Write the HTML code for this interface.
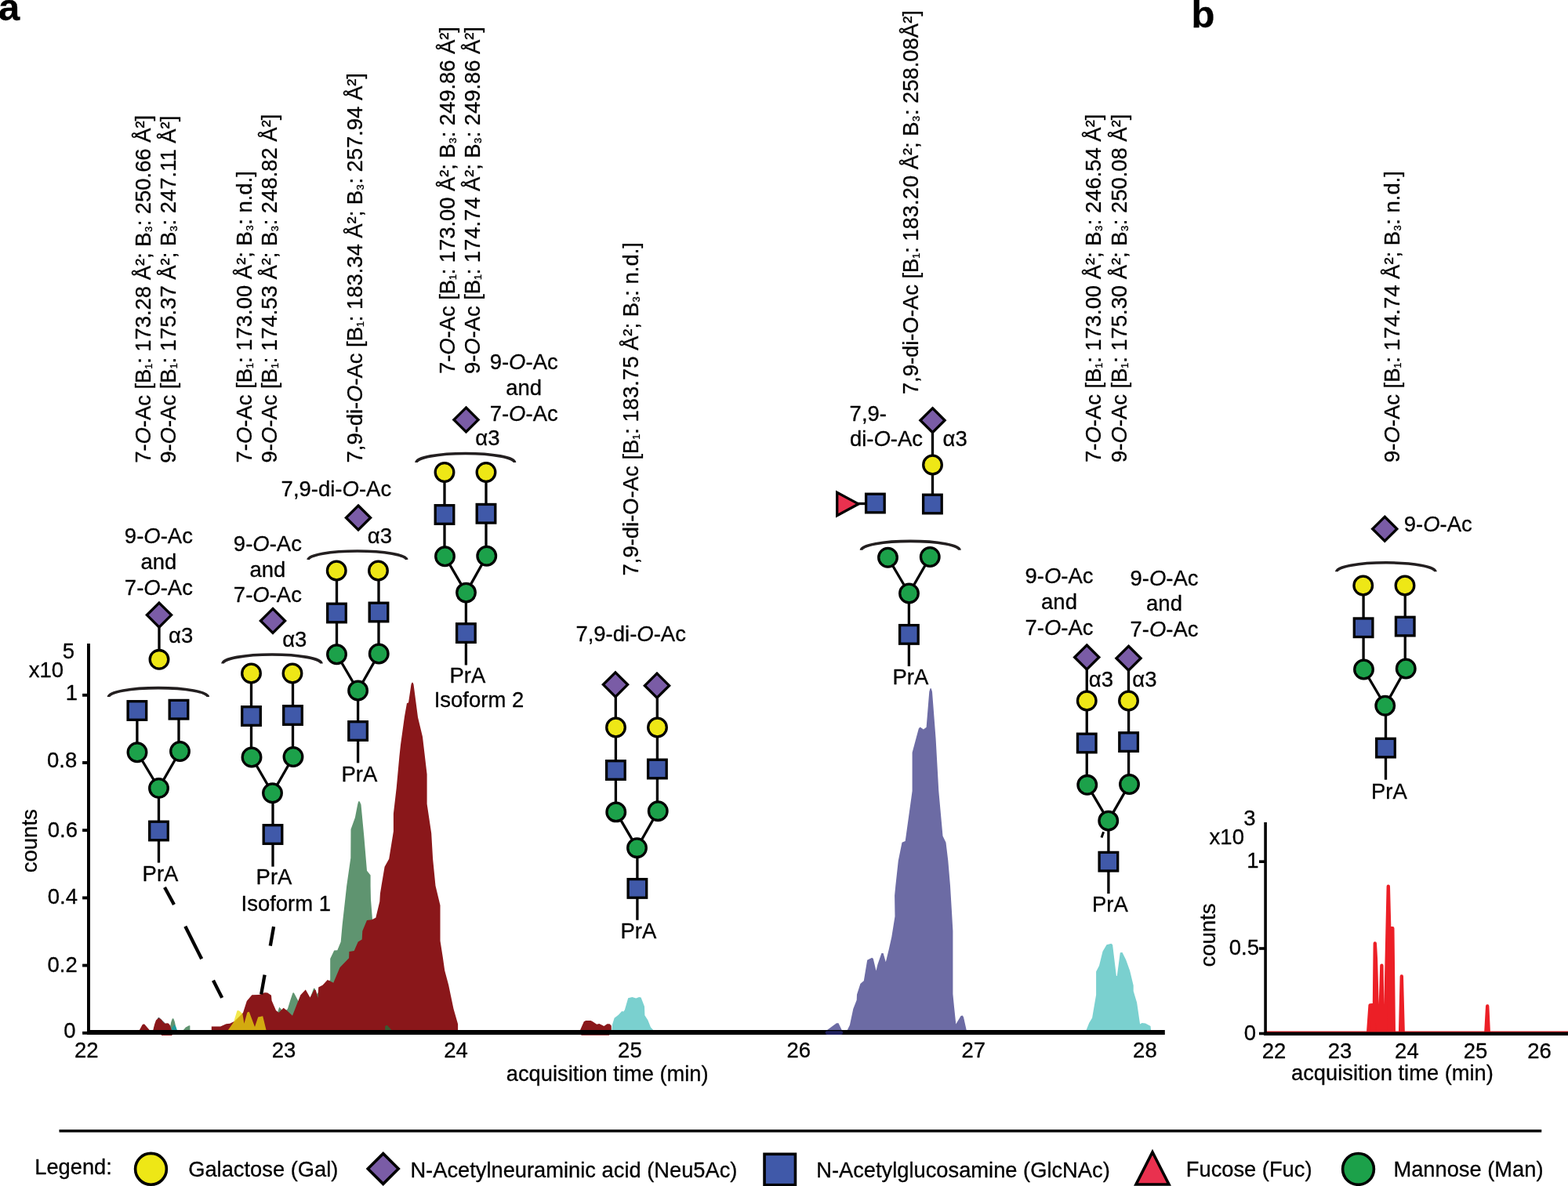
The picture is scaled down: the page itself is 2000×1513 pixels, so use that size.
<!DOCTYPE html>
<html lang="en"><head><meta charset="utf-8"><title>Figure</title>
<style>
html,body{margin:0;padding:0;background:#fff;}
body{width:2000px;height:1513px;overflow:hidden;}
svg{display:block;font-family:"Liberation Sans",Arial,Helvetica,sans-serif;font-size:27.5px;fill:#000;}
text{stroke:#000;stroke-width:0.3px;stroke-linejoin:round;}
</style></head><body>
<svg xmlns="http://www.w3.org/2000/svg" width="2000" height="1513" viewBox="0 0 2000 1513">
<rect width="2000" height="1513" fill="#fff"/>
<path d="M215.8,1316 L218.2,1304 L219.8,1299.6 L220.6,1299.2 L221.4,1299.6 L223,1304 L225.4,1316Z" fill="#5F9470"/>
<path d="M218.6,1316 L219.4,1311.2 L222.4,1307 L224.2,1309.4 L226.6,1316Z" fill="#1F9C9A"/>
<path d="M232,1316 L237,1310.5 L241.2,1308.2 L242.4,1308.6 L242.4,1316Z" fill="#5F9470"/>
<path d="M352,1316 L354.4,1290.8 L356.2,1284.8 L358.6,1287.2 L362,1292 L366.9,1287 L370,1277 L373.4,1266.8 L374.2,1266.2 L375,1266.8 L380.8,1277.6 L385,1290 L395,1275 L399.8,1261.5 L400.8,1260.6 L401.8,1261.5 L404,1268 L410,1262 L421.2,1249.9 L421.2,1222.9 L426.2,1212.5 L430.3,1212.2 L434.7,1201.6 L436.6,1180.2 L440.4,1146.3 L442.2,1130 L447.3,1094.4 L447.5,1058 L452.9,1043 L456.1,1026.6 L457.1,1022.6 L457.9,1022.2 L458.8,1022.6 L460.5,1026.6 L464.2,1065.6 L468,1110.8 L472.6,1116.4 L472.6,1130 L473,1147.6 L474.9,1172.1 L480,1200 L480,1316Z" fill="#5F9470"/>
<path d="M196,1312 L201.5,1298.2 L203,1298 L210.5,1305.3 L212,1309 L200,1309Z" fill="#4D5456"/>
<path d="M176.8,1316 L181.6,1307.2 L182.8,1306.4 L184.2,1306.6 L192.4,1316Z" fill="#8A171A"/>
<path d="M194.8,1316 L197.2,1306.4 L199,1301.6 L201.4,1299.4 L203.2,1299.2 L205.6,1300.6 L208,1304 L209.8,1305.8 L211.6,1305.4 L213.4,1305.2 L215.2,1305.8 L217,1308.2 L218.8,1314 L219.6,1321 L206,1321 L205,1316Z" fill="#8A171A"/>
<path d="M269.8,1316 L269.8,1309.4 L281.2,1309.4 L288.4,1306.2 L293.2,1305.8 L299.2,1302.8 L305,1297 L310,1292 L314.8,1277 L321.4,1269.2 L330.4,1269 L337.6,1266.2 L341.2,1266.6 L346,1269.8 L346.6,1276.4 L352,1289 L355.6,1291.8 L361.6,1285.8 L366.4,1289.4 L373,1295.8 L383.2,1269.6 L389.8,1262.6 L395.5,1272.5 L400.8,1262.5 L402.7,1263.1 L405.5,1273.1 L406.2,1259.6 L411.5,1256.8 L417.8,1249.9 L425.3,1253.7 L433.5,1234.2 L445.1,1222.3 L445.4,1214.1 L451.7,1213.1 L456.7,1201.6 L461.7,1198.4 L462.3,1187.8 L468,1173.9 L474.3,1173.3 L479.3,1170.8 L484.3,1150.1 L484.9,1140 L486.5,1130 L490.6,1105.7 L496.2,1095.7 L501.9,1060.5 L501.9,1037.9 L505.7,1005.3 L509.4,965.1 L511,950 L516,914 L519,897 L521,896.5 L524.5,873 L525.4,870.9 L526,870.5 L526.6,870.9 L527.5,873 L533,915 L539,940 L544.6,987.7 L544.6,1025.4 L550.2,1063 L552.1,1095.7 L555.5,1130 L561.5,1155.1 L561.5,1200.3 L564.7,1220.4 L567.2,1238 L572.2,1256.8 L578.5,1287 L584.1,1306.4 L584.1,1316Z" fill="#8A171A"/>
<path d="M491.2,1316 L491.2,1308.9 L493.7,1307.7 L498.7,1313.3 L499.6,1316Z" fill="#3A5A32"/>
<path d="M289.6,1316 L298,1304 L302.4,1289.6 L303.2,1289 L305.2,1289.6 L309.4,1293.2 L311.4,1305.8 L315.4,1291.4 L317.8,1290.8 L325,1310 L329.2,1297.4 L335.2,1296.2 L340,1316Z" fill="#EEE10D" fill-opacity="0.73"/>
<path d="M739.2,1316 L744.8,1303.2 L747.2,1302 L753.6,1302 L756,1303.2 L761.2,1306.8 L764.4,1306 L770.4,1309 L774.4,1306.2 L777.6,1306.2 L779.8,1308.4 L779.8,1316 L777,1320.8 L741.5,1320.8Z" fill="#8A171A"/>
<path d="M780,1316 L781.2,1306.4 L783.6,1298.8 L788.8,1294.8 L793.2,1290 L795.2,1290.4 L796.8,1288.4 L801.2,1273.2 L806.4,1272 L811.2,1273.6 L815.2,1272 L817.6,1272.4 L822,1284 L822.4,1295.2 L826.4,1301.6 L830,1310.4 L833.2,1314 L834,1316Z" fill="#7AD0CF"/>
<path d="M1055.1,1314 L1067,1305.2 L1069.5,1305.2 L1073.7,1314 L1074,1316 L1055,1316Z" fill="#6C6BA4"/>
<path d="M1080.8,1316 L1080.8,1314 L1083.9,1307.7 L1088.3,1287 L1092.7,1275.7 L1093,1268.7 L1097.4,1254.9 L1101.8,1251.2 L1106.2,1224.8 L1112.2,1221.7 L1113.8,1222.9 L1117.5,1238.6 L1119.4,1230.5 L1124.4,1216 L1126.6,1216 L1129.8,1227.3 L1133.5,1212.2 L1137.3,1195.3 L1141.5,1168.9 L1141.1,1142.6 L1142.3,1130 L1145.8,1098 L1150.5,1074.8 L1154.7,1073 L1163.6,1009.1 L1163.6,960.1 L1171.8,929.6 L1173.6,927.4 L1177.9,930.5 L1181.6,927.7 L1185.3,882.4 L1186.4,878.5 L1187.1,878.1 L1187.8,878.5 L1189,882.4 L1193.6,942.5 L1197.3,1009.1 L1202.5,1066.5 L1206.5,1074.8 L1209.3,1098 L1212,1130 L1213.9,1161.4 L1215.4,1187.8 L1215.4,1268.1 L1217,1284.4 L1219.3,1306.4 L1225.6,1296 L1227.7,1295.5 L1229,1297.6 L1232.7,1314 L1232.7,1316Z" fill="#6C6BA4"/>
<path d="M1385.7,1316 L1385.7,1313.8 L1389.2,1304.9 L1393.1,1298.5 L1398.1,1269.2 L1398.1,1239.5 L1402,1232 L1406.5,1213.7 L1411.5,1205.3 L1417.4,1203.8 L1419.1,1205.3 L1423.9,1244.9 L1424.8,1244.9 L1428.8,1215.2 L1431.5,1214.9 L1436.2,1224.6 L1441.2,1238.5 L1445.7,1257.3 L1445.7,1264.3 L1450.1,1279.1 L1454.1,1306.4 L1456.6,1304.9 L1461,1305.4 L1467.5,1308.9 L1468,1313.8 L1468,1316Z" fill="#7AD0CF"/>
<line x1="113" y1="821" x2="113" y2="1320" stroke="#000" stroke-width="4"/>
<line x1="111" y1="1317" x2="1485.8" y2="1317" stroke="#000" stroke-width="6"/>
<rect x="1052.6" y="1315.2" width="22.6" height="4.8" rx="2.4" fill="#1E1F5C"/>
<line x1="105.1" y1="886.8" x2="113" y2="886.8" stroke="#000" stroke-width="3.9"/>
<text transform="translate(99,892.8) scale(1,1.02)" text-anchor="end">1</text>
<line x1="105.1" y1="973" x2="113" y2="973" stroke="#000" stroke-width="3.9"/>
<text transform="translate(98.2,979.4) scale(1,1.02)" text-anchor="end">0.8</text>
<line x1="105.1" y1="1059.2" x2="113" y2="1059.2" stroke="#000" stroke-width="3.9"/>
<text transform="translate(99,1068.4) scale(1,1.02)" text-anchor="end">0.6</text>
<line x1="105.1" y1="1145.4" x2="113" y2="1145.4" stroke="#000" stroke-width="3.9"/>
<text transform="translate(99,1152.7) scale(1,1.02)" text-anchor="end">0.4</text>
<line x1="105.1" y1="1231.6" x2="113" y2="1231.6" stroke="#000" stroke-width="3.9"/>
<text transform="translate(98.8,1239.6) scale(1,1.02)" text-anchor="end">0.2</text>
<line x1="105.1" y1="1317.8" x2="113" y2="1317.8" stroke="#000" stroke-width="3.9"/>
<text transform="translate(96.6,1324.2) scale(1,1.02)" text-anchor="end">0</text>
<text transform="translate(36.8,864.2) scale(1,1.02)" >x10</text>
<text transform="translate(79.8,840.2) scale(1,1.02)" >5</text>
<text transform="translate(47,1113.2) rotate(-90) scale(1,1.02)" >counts</text>
<text transform="translate(110.25,1348.9) scale(1,1.02)" text-anchor="middle">22</text>
<text transform="translate(362,1348.9) scale(1,1.02)" text-anchor="middle">23</text>
<text transform="translate(581.6,1348.9) scale(1,1.02)" text-anchor="middle">24</text>
<text transform="translate(803.4,1348.9) scale(1,1.02)" text-anchor="middle">25</text>
<text transform="translate(1018.75,1348.9) scale(1,1.02)" text-anchor="middle">26</text>
<text transform="translate(1241.75,1348.9) scale(1,1.02)" text-anchor="middle">27</text>
<text transform="translate(1460.4,1348.9) scale(1,1.02)" text-anchor="middle">28</text>
<text transform="translate(645.8,1378.6) scale(1,1.02)" font-size="27.3">acquisition time (min)</text>
<path d="M1614,1317.8 L1745.1,1317.8 L1747.6,1282.4 L1750.3,1282.3 L1751,1317.8 L1752.6,1317.8 L1753.8,1203.5 L1754.9,1223.4 L1757.5,1317.8 L1759.8,1317.8 L1762.4,1231.7 L1763.6,1317.8 L1766.7,1317.8 L1770.8,1130.7 L1772.2,1184.2 L1776.3,1184.2 L1777.8,1317.8 L1786.1,1317.8 L1787.8,1245.5 L1789.7,1317.8 L1895.3,1317.8 L1897.2,1283.5 L1898.8,1317.8 L2002,1317.8" fill="#EC1F26" stroke="#EC1F26" stroke-width="4.4" stroke-linejoin="round"/>
<line x1="1614.1" y1="1049.1" x2="1614.1" y2="1321" stroke="#000" stroke-width="3.6"/>
<line x1="1612.3" y1="1318.8" x2="2000" y2="1318.8" stroke="#000" stroke-width="4.4"/>
<line x1="1606" y1="1099.2" x2="1614" y2="1099.2" stroke="#000" stroke-width="3.6"/>
<text transform="translate(1605.5,1107.4) scale(1,1.02)" text-anchor="end">1</text>
<line x1="1606" y1="1210" x2="1614" y2="1210" stroke="#000" stroke-width="3.6"/>
<text transform="translate(1606,1218.2) scale(1,1.02)" text-anchor="end">0.5</text>
<line x1="1606" y1="1318.5" x2="1614" y2="1318.5" stroke="#000" stroke-width="3.6"/>
<text transform="translate(1602,1326.7) scale(1,1.02)" text-anchor="end">0</text>
<text transform="translate(1542.6,1076.9) scale(1,1.02)" >x10</text>
<text transform="translate(1586.2,1052.5) scale(1,1.02)" >3</text>
<text transform="translate(1550.3,1233.5) rotate(-90) scale(1,1.02)" >counts</text>
<text transform="translate(1625,1350.2) scale(1,1.02)" text-anchor="middle">22</text>
<text transform="translate(1709,1350.2) scale(1,1.02)" text-anchor="middle">23</text>
<text transform="translate(1794.4,1350.2) scale(1,1.02)" text-anchor="middle">24</text>
<text transform="translate(1882,1350.2) scale(1,1.02)" text-anchor="middle">25</text>
<text transform="translate(1963.6,1350.2) scale(1,1.02)" text-anchor="middle">26</text>
<text transform="translate(1647,1378.2) scale(1,1.02)" font-size="27.3">acquisition time (min)</text>
<line x1="210" y1="1132" x2="222" y2="1154" stroke="#000" stroke-width="4.3"/>
<line x1="236.3" y1="1181.8" x2="257.2" y2="1223.3" stroke="#000" stroke-width="4.3"/>
<line x1="272" y1="1250.8" x2="283.2" y2="1272.9" stroke="#000" stroke-width="4.3"/>
<line x1="349.1" y1="1182.2" x2="344.8" y2="1206.6" stroke="#000" stroke-width="4.3"/>
<line x1="337.6" y1="1243.6" x2="333.2" y2="1268.3" stroke="#000" stroke-width="4.3"/>
<line x1="203" y1="785.5" x2="203" y2="841.3" stroke="#000" stroke-width="3.3"/>
<path d="M203,769.1 L218.6,784.6 L203,800.1 L187.4,784.6Z" fill="#7A5CA6" stroke="#000" stroke-width="3.3"/>
<circle cx="203" cy="841.3" r="11.8" fill="#EEE716" stroke="#000" stroke-width="3.3"/>
<text transform="translate(215.1,820.2) scale(1,1.02)" >α3</text>
<path d="M138.5,889 A63.4,11.4 0 0 1 265.3,889" fill="none" stroke="#231F20" stroke-width="3.6"/>
<line x1="174.9" y1="906.5" x2="174.9" y2="959.75" stroke="#000" stroke-width="3.3"/>
<line x1="175" y1="959.75" x2="202.5" y2="1005.5" stroke="#000" stroke-width="3.3"/>
<line x1="228" y1="905.2" x2="228" y2="958.5" stroke="#000" stroke-width="3.3"/>
<line x1="229.5" y1="958.5" x2="202.5" y2="1005.5" stroke="#000" stroke-width="3.3"/>
<line x1="202.5" y1="1005.5" x2="202.5" y2="1060" stroke="#000" stroke-width="3.3"/>
<line x1="202.5" y1="1060" x2="202.5" y2="1100.6" stroke="#000" stroke-width="3.3"/>
<rect x="163.1" y="894.7" width="23.6" height="23.6" fill="#4059A9" stroke="#000" stroke-width="3.3"/>
<circle cx="175" cy="959.75" r="11.8" fill="#1CA14A" stroke="#000" stroke-width="3.3"/>
<rect x="216.2" y="893.4" width="23.6" height="23.6" fill="#4059A9" stroke="#000" stroke-width="3.3"/>
<circle cx="229.5" cy="958.5" r="11.8" fill="#1CA14A" stroke="#000" stroke-width="3.3"/>
<circle cx="202.5" cy="1005.5" r="11.8" fill="#1CA14A" stroke="#000" stroke-width="3.3"/>
<rect x="190.7" y="1048.2" width="23.6" height="23.6" fill="#4059A9" stroke="#000" stroke-width="3.3"/>
<text transform="translate(181.6,1123.9) scale(1,1.02)" >PrA</text>
<text transform="translate(202.4,693.1) scale(1,1.02)" text-anchor="middle">9-<tspan font-style="italic">O</tspan>-Ac</text>
<text transform="translate(202.4,725.85) scale(1,1.02)" text-anchor="middle">and</text>
<text transform="translate(202.4,758.6) scale(1,1.02)" text-anchor="middle">7-<tspan font-style="italic">O</tspan>-Ac</text>
<path d="M348,776.5 L363.6,792 L348,807.5 L332.4,792Z" fill="#7A5CA6" stroke="#000" stroke-width="3.3"/>
<text transform="translate(360.2,824.6) scale(1,1.02)" >α3</text>
<path d="M284,846.5 A63,11.5 0 0 1 410,846.5" fill="none" stroke="#231F20" stroke-width="3.6"/>
<line x1="320.5" y1="859" x2="320.5" y2="966" stroke="#000" stroke-width="3.3"/>
<line x1="321" y1="966" x2="347.5" y2="1011.75" stroke="#000" stroke-width="3.3"/>
<line x1="373.5" y1="859" x2="373.5" y2="965.5" stroke="#000" stroke-width="3.3"/>
<line x1="374" y1="965.5" x2="347.5" y2="1011.75" stroke="#000" stroke-width="3.3"/>
<line x1="348" y1="1011.75" x2="348" y2="1064.5" stroke="#000" stroke-width="3.3"/>
<line x1="348" y1="1064.5" x2="348" y2="1105.6" stroke="#000" stroke-width="3.3"/>
<circle cx="320.5" cy="859" r="11.8" fill="#EEE716" stroke="#000" stroke-width="3.3"/>
<rect x="308.7" y="901.7" width="23.6" height="23.6" fill="#4059A9" stroke="#000" stroke-width="3.3"/>
<circle cx="321" cy="966" r="11.8" fill="#1CA14A" stroke="#000" stroke-width="3.3"/>
<circle cx="373" cy="859" r="11.8" fill="#EEE716" stroke="#000" stroke-width="3.3"/>
<rect x="361.7" y="900.7" width="23.6" height="23.6" fill="#4059A9" stroke="#000" stroke-width="3.3"/>
<circle cx="374" cy="965.5" r="11.8" fill="#1CA14A" stroke="#000" stroke-width="3.3"/>
<circle cx="347.5" cy="1011.75" r="11.8" fill="#1CA14A" stroke="#000" stroke-width="3.3"/>
<rect x="336.2" y="1052.7" width="23.6" height="23.6" fill="#4059A9" stroke="#000" stroke-width="3.3"/>
<text transform="translate(326.6,1127.9) scale(1,1.02)" >PrA</text>
<text transform="translate(307.5,1162) scale(1,1.02)" >Isoform 1</text>
<text transform="translate(341.4,702.9) scale(1,1.02)" text-anchor="middle">9-<tspan font-style="italic">O</tspan>-Ac</text>
<text transform="translate(341.4,735.6) scale(1,1.02)" text-anchor="middle">and</text>
<text transform="translate(341.4,768.3) scale(1,1.02)" text-anchor="middle">7-<tspan font-style="italic">O</tspan>-Ac</text>
<text transform="translate(358.6,633.2) scale(1,1.02)" >7,9-di-<tspan font-style="italic">O</tspan>-Ac</text>
<path d="M457,645 L472.6,660.5 L457,676 L441.4,660.5Z" fill="#7A5CA6" stroke="#000" stroke-width="3.3"/>
<text transform="translate(468.8,692.6) scale(1,1.02)" >α3</text>
<path d="M393,714 A62.88,11.2 0 0 1 518.75,714" fill="none" stroke="#231F20" stroke-width="3.6"/>
<line x1="429.5" y1="728" x2="429.5" y2="834.75" stroke="#000" stroke-width="3.3"/>
<line x1="429.5" y1="834.75" x2="456.6" y2="881" stroke="#000" stroke-width="3.3"/>
<line x1="483" y1="728" x2="483" y2="834" stroke="#000" stroke-width="3.3"/>
<line x1="483.25" y1="834" x2="456.6" y2="881" stroke="#000" stroke-width="3.3"/>
<line x1="456.6" y1="881" x2="456.6" y2="932.5" stroke="#000" stroke-width="3.3"/>
<line x1="456.6" y1="932.5" x2="456.6" y2="973.3" stroke="#000" stroke-width="3.3"/>
<circle cx="429.25" cy="728" r="11.8" fill="#EEE716" stroke="#000" stroke-width="3.3"/>
<rect x="417.7" y="770.2" width="23.6" height="23.6" fill="#4059A9" stroke="#000" stroke-width="3.3"/>
<circle cx="429.5" cy="834.75" r="11.8" fill="#1CA14A" stroke="#000" stroke-width="3.3"/>
<circle cx="482.5" cy="728" r="11.8" fill="#EEE716" stroke="#000" stroke-width="3.3"/>
<rect x="471.2" y="769.2" width="23.6" height="23.6" fill="#4059A9" stroke="#000" stroke-width="3.3"/>
<circle cx="483.25" cy="834" r="11.8" fill="#1CA14A" stroke="#000" stroke-width="3.3"/>
<circle cx="456.6" cy="881" r="11.8" fill="#1CA14A" stroke="#000" stroke-width="3.3"/>
<rect x="444.8" y="920.7" width="23.6" height="23.6" fill="#4059A9" stroke="#000" stroke-width="3.3"/>
<text transform="translate(435.5,997.1) scale(1,1.02)" >PrA</text>
<text transform="translate(668.2,471.2) scale(1,1.02)" text-anchor="middle">9-<tspan font-style="italic">O</tspan>-Ac</text>
<text transform="translate(668.2,504) scale(1,1.02)" text-anchor="middle">and</text>
<text transform="translate(668.2,536.8) scale(1,1.02)" text-anchor="middle">7-<tspan font-style="italic">O</tspan>-Ac</text>
<path d="M594.5,520 L610.1,535.5 L594.5,551 L578.9,535.5Z" fill="#7A5CA6" stroke="#000" stroke-width="3.3"/>
<text transform="translate(606.3,568.2) scale(1,1.02)" >α3</text>
<path d="M531,590 A62.75,11.5 0 0 1 656.5,590" fill="none" stroke="#231F20" stroke-width="3.6"/>
<line x1="567" y1="602.5" x2="567" y2="709.75" stroke="#000" stroke-width="3.3"/>
<line x1="567.5" y1="709.75" x2="594.5" y2="756.1" stroke="#000" stroke-width="3.3"/>
<line x1="620" y1="602.5" x2="620" y2="709.25" stroke="#000" stroke-width="3.3"/>
<line x1="620.75" y1="709.25" x2="594.5" y2="756.1" stroke="#000" stroke-width="3.3"/>
<line x1="594.4" y1="756.1" x2="594.4" y2="807.6" stroke="#000" stroke-width="3.3"/>
<line x1="594.4" y1="807.6" x2="594.4" y2="848.5" stroke="#000" stroke-width="3.3"/>
<circle cx="567" cy="602.5" r="11.8" fill="#EEE716" stroke="#000" stroke-width="3.3"/>
<rect x="555.2" y="644.7" width="23.6" height="23.6" fill="#4059A9" stroke="#000" stroke-width="3.3"/>
<circle cx="567.5" cy="709.75" r="11.8" fill="#1CA14A" stroke="#000" stroke-width="3.3"/>
<circle cx="620" cy="602.5" r="11.8" fill="#EEE716" stroke="#000" stroke-width="3.3"/>
<rect x="608.2" y="643.45" width="23.6" height="23.6" fill="#4059A9" stroke="#000" stroke-width="3.3"/>
<circle cx="620.75" cy="709.25" r="11.8" fill="#1CA14A" stroke="#000" stroke-width="3.3"/>
<circle cx="594.5" cy="756.1" r="11.8" fill="#1CA14A" stroke="#000" stroke-width="3.3"/>
<rect x="582.6" y="795.8" width="23.6" height="23.6" fill="#4059A9" stroke="#000" stroke-width="3.3"/>
<text transform="translate(573.4,871.4) scale(1,1.02)" >PrA</text>
<text transform="translate(553.7,902.4) scale(1,1.02)" >Isoform 2</text>
<text transform="translate(734.4,818) scale(1,1.02)" >7,9-di-<tspan font-style="italic">O</tspan>-Ac</text>
<line x1="785.3" y1="873.3" x2="785.3" y2="928" stroke="#000" stroke-width="3.3"/>
<line x1="838.3" y1="874.7" x2="838.3" y2="928" stroke="#000" stroke-width="3.3"/>
<path d="M785,857.8 L800.6,873.3 L785,888.8 L769.4,873.3Z" fill="#7A5CA6" stroke="#000" stroke-width="3.3"/>
<path d="M838,859.2 L853.6,874.7 L838,890.2 L822.4,874.7Z" fill="#7A5CA6" stroke="#000" stroke-width="3.3"/>
<line x1="785.4" y1="928" x2="785.4" y2="1035.9" stroke="#000" stroke-width="3.3"/>
<line x1="785.75" y1="1035.9" x2="812.5" y2="1081.7" stroke="#000" stroke-width="3.3"/>
<line x1="838.4" y1="928" x2="838.4" y2="1034.7" stroke="#000" stroke-width="3.3"/>
<line x1="839.25" y1="1034.7" x2="812.5" y2="1081.7" stroke="#000" stroke-width="3.3"/>
<line x1="812.9" y1="1081.7" x2="812.9" y2="1133.4" stroke="#000" stroke-width="3.3"/>
<line x1="812.9" y1="1133.4" x2="812.9" y2="1173.75" stroke="#000" stroke-width="3.3"/>
<circle cx="785.5" cy="928" r="11.8" fill="#EEE716" stroke="#000" stroke-width="3.3"/>
<rect x="773.6" y="970.7" width="23.6" height="23.6" fill="#4059A9" stroke="#000" stroke-width="3.3"/>
<circle cx="785.75" cy="1035.9" r="11.8" fill="#1CA14A" stroke="#000" stroke-width="3.3"/>
<circle cx="838.5" cy="928" r="11.8" fill="#EEE716" stroke="#000" stroke-width="3.3"/>
<rect x="826.6" y="969.2" width="23.6" height="23.6" fill="#4059A9" stroke="#000" stroke-width="3.3"/>
<circle cx="839.25" cy="1034.7" r="11.8" fill="#1CA14A" stroke="#000" stroke-width="3.3"/>
<circle cx="812.5" cy="1081.7" r="11.8" fill="#1CA14A" stroke="#000" stroke-width="3.3"/>
<rect x="801.1" y="1121.6" width="23.6" height="23.6" fill="#4059A9" stroke="#000" stroke-width="3.3"/>
<text transform="translate(791.4,1197.2) scale(1,1.02)" >PrA</text>
<text transform="translate(1083.6,536.9) scale(1,1.02)" >7,9-</text>
<text transform="translate(1083.9,569.4) scale(1,1.02)" >di-<tspan font-style="italic">O</tspan>-Ac</text>
<line x1="1189.5" y1="536.25" x2="1189.5" y2="643" stroke="#000" stroke-width="3.3"/>
<path d="M1189.5,520.75 L1205.1,536.25 L1189.5,551.75 L1173.9,536.25Z" fill="#7A5CA6" stroke="#000" stroke-width="3.3"/>
<text transform="translate(1202.6,568.7) scale(1,1.02)" >α3</text>
<circle cx="1189.5" cy="593" r="11.8" fill="#EEE716" stroke="#000" stroke-width="3.3"/>
<rect x="1177.6" y="631.2" width="23.6" height="23.6" fill="#4059A9" stroke="#000" stroke-width="3.3"/>
<line x1="1094" y1="642.5" x2="1116.4" y2="642.5" stroke="#000" stroke-width="3.3"/>
<path d="M1067.7,628.2 L1067.7,657.8 L1095,642.9Z" fill="#E9314F" stroke="#000" stroke-width="3.3"/>
<rect x="1104.6" y="630.2" width="23.6" height="23.6" fill="#4059A9" stroke="#000" stroke-width="3.3"/>
<path d="M1098.5,701.7 A62.75,11.3 0 0 1 1224,701.7" fill="none" stroke="#231F20" stroke-width="3.6"/>
<line x1="1132.5" y1="711.25" x2="1159.5" y2="757" stroke="#000" stroke-width="3.3"/>
<line x1="1186.25" y1="710.5" x2="1159.5" y2="757" stroke="#000" stroke-width="3.3"/>
<line x1="1159.4" y1="757" x2="1159.4" y2="809.4" stroke="#000" stroke-width="3.3"/>
<line x1="1159.4" y1="809.4" x2="1159.4" y2="850" stroke="#000" stroke-width="3.3"/>
<circle cx="1132.5" cy="711.25" r="11.8" fill="#1CA14A" stroke="#000" stroke-width="3.3"/>
<circle cx="1186.25" cy="710.5" r="11.8" fill="#1CA14A" stroke="#000" stroke-width="3.3"/>
<circle cx="1159.5" cy="757" r="11.8" fill="#1CA14A" stroke="#000" stroke-width="3.3"/>
<rect x="1147.6" y="797.6" width="23.6" height="23.6" fill="#4059A9" stroke="#000" stroke-width="3.3"/>
<text transform="translate(1138.5,872.8) scale(1,1.02)" >PrA</text>
<text transform="translate(1351,744.1) scale(1,1.02)" text-anchor="middle">9-<tspan font-style="italic">O</tspan>-Ac</text>
<text transform="translate(1485,746.9) scale(1,1.02)" text-anchor="middle">9-<tspan font-style="italic">O</tspan>-Ac</text>
<text transform="translate(1351,776.9) scale(1,1.02)" text-anchor="middle">and</text>
<text transform="translate(1485,779.3) scale(1,1.02)" text-anchor="middle">and</text>
<text transform="translate(1351,809.7) scale(1,1.02)" text-anchor="middle">7-<tspan font-style="italic">O</tspan>-Ac</text>
<text transform="translate(1485,811.7) scale(1,1.02)" text-anchor="middle">7-<tspan font-style="italic">O</tspan>-Ac</text>
<line x1="1386.25" y1="838.5" x2="1386.25" y2="894" stroke="#000" stroke-width="3.3"/>
<line x1="1439.5" y1="839.75" x2="1439.5" y2="894" stroke="#000" stroke-width="3.3"/>
<path d="M1386.25,823 L1401.85,838.5 L1386.25,854 L1370.65,838.5Z" fill="#7A5CA6" stroke="#000" stroke-width="3.3"/>
<path d="M1439.5,824.25 L1455.1,839.75 L1439.5,855.25 L1423.9,839.75Z" fill="#7A5CA6" stroke="#000" stroke-width="3.3"/>
<text transform="translate(1388.8,875.6) scale(1,1.02)" >α3</text>
<text transform="translate(1444.3,875.6) scale(1,1.02)" >α3</text>
<line x1="1407.6" y1="1061.3" x2="1405" y2="1068.6" stroke="#000" stroke-width="3"/>
<line x1="1386.25" y1="894" x2="1386.25" y2="1001.3" stroke="#000" stroke-width="3.3"/>
<line x1="1386.75" y1="1001.3" x2="1413.75" y2="1047.1" stroke="#000" stroke-width="3.3"/>
<line x1="1439.6" y1="894" x2="1439.6" y2="1000.5" stroke="#000" stroke-width="3.3"/>
<line x1="1440.5" y1="1000.5" x2="1413.75" y2="1047.1" stroke="#000" stroke-width="3.3"/>
<line x1="1413.9" y1="1047.1" x2="1413.9" y2="1099.2" stroke="#000" stroke-width="3.3"/>
<line x1="1413.9" y1="1099.2" x2="1413.9" y2="1140" stroke="#000" stroke-width="3.3"/>
<circle cx="1386.25" cy="894" r="11.8" fill="#EEE716" stroke="#000" stroke-width="3.3"/>
<rect x="1374.45" y="936.2" width="23.6" height="23.6" fill="#4059A9" stroke="#000" stroke-width="3.3"/>
<circle cx="1386.75" cy="1001.3" r="11.8" fill="#1CA14A" stroke="#000" stroke-width="3.3"/>
<circle cx="1439.5" cy="894" r="11.8" fill="#EEE716" stroke="#000" stroke-width="3.3"/>
<rect x="1427.8" y="934.8" width="23.6" height="23.6" fill="#4059A9" stroke="#000" stroke-width="3.3"/>
<circle cx="1440.5" cy="1000.5" r="11.8" fill="#1CA14A" stroke="#000" stroke-width="3.3"/>
<circle cx="1413.75" cy="1047.1" r="11.8" fill="#1CA14A" stroke="#000" stroke-width="3.3"/>
<rect x="1402.1" y="1087.4" width="23.6" height="23.6" fill="#4059A9" stroke="#000" stroke-width="3.3"/>
<text transform="translate(1392.9,1163.2) scale(1,1.02)" >PrA</text>
<path d="M1766.25,659.25 L1781.85,674.75 L1766.25,690.25 L1750.65,674.75Z" fill="#7A5CA6" stroke="#000" stroke-width="3.3"/>
<text transform="translate(1790.7,677.5) scale(1,1.02)" >9-<tspan font-style="italic">O</tspan>-Ac</text>
<path d="M1704.75,729.3 A63.12,11.5 0 0 1 1831,729.3" fill="none" stroke="#231F20" stroke-width="3.6"/>
<line x1="1739.1" y1="747" x2="1739.1" y2="854" stroke="#000" stroke-width="3.3"/>
<line x1="1739.5" y1="854" x2="1766.75" y2="900.25" stroke="#000" stroke-width="3.3"/>
<line x1="1792.25" y1="747" x2="1792.25" y2="853" stroke="#000" stroke-width="3.3"/>
<line x1="1793.25" y1="853" x2="1766.75" y2="900.25" stroke="#000" stroke-width="3.3"/>
<line x1="1767.5" y1="900.25" x2="1767.5" y2="954.1" stroke="#000" stroke-width="3.3"/>
<line x1="1767.5" y1="954.1" x2="1767.5" y2="994.7" stroke="#000" stroke-width="3.3"/>
<circle cx="1738.75" cy="747" r="11.8" fill="#EEE716" stroke="#000" stroke-width="3.3"/>
<rect x="1727.3" y="788.95" width="23.6" height="23.6" fill="#4059A9" stroke="#000" stroke-width="3.3"/>
<circle cx="1739.5" cy="854" r="11.8" fill="#1CA14A" stroke="#000" stroke-width="3.3"/>
<circle cx="1792" cy="747" r="11.8" fill="#EEE716" stroke="#000" stroke-width="3.3"/>
<rect x="1780.45" y="787.3" width="23.6" height="23.6" fill="#4059A9" stroke="#000" stroke-width="3.3"/>
<circle cx="1793.25" cy="853" r="11.8" fill="#1CA14A" stroke="#000" stroke-width="3.3"/>
<circle cx="1766.75" cy="900.25" r="11.8" fill="#1CA14A" stroke="#000" stroke-width="3.3"/>
<rect x="1755.7" y="942.3" width="23.6" height="23.6" fill="#4059A9" stroke="#000" stroke-width="3.3"/>
<text transform="translate(1748.9,1019) scale(1,1.02)" >PrA</text>
<text transform="translate(191.7,590.8) rotate(-90) scale(1,1.02)" textLength="444" lengthAdjust="spacing">7-<tspan font-style="italic">O</tspan>-Ac [B<tspan font-size="20.5">₁</tspan>: 173.28 Å²; B<tspan font-size="20.5">₃</tspan>: 250.66 Å²]</text>
<text transform="translate(224.3,590.8) rotate(-90) scale(1,1.02)" textLength="443.2" lengthAdjust="spacing">9-<tspan font-style="italic">O</tspan>-Ac [B<tspan font-size="20.5">₁</tspan>: 175.37 Å²; B<tspan font-size="20.5">₃</tspan>: 247.11 Å²]</text>
<text transform="translate(321,590.4) rotate(-90) scale(1,1.02)" textLength="372.3" lengthAdjust="spacing">7-<tspan font-style="italic">O</tspan>-Ac [B<tspan font-size="20.5">₁</tspan>: 173.00 Å²; B<tspan font-size="20.5">₃</tspan>: n.d.]</text>
<text transform="translate(352.8,590.4) rotate(-90) scale(1,1.02)" textLength="444.8" lengthAdjust="spacing">9-<tspan font-style="italic">O</tspan>-Ac [B<tspan font-size="20.5">₁</tspan>: 174.53 Å²; B<tspan font-size="20.5">₃</tspan>: 248.82 Å²]</text>
<text transform="translate(462.2,590.4) rotate(-90) scale(1,1.02)" textLength="497.3" lengthAdjust="spacing">7,9-di-<tspan font-style="italic">O</tspan>-Ac [B<tspan font-size="20.5">₁</tspan>: 183.34 Å²; B<tspan font-size="20.5">₃</tspan>: 257.94 Å²]</text>
<text transform="translate(579.5,476.9) rotate(-90) scale(1,1.02)" textLength="442.8" lengthAdjust="spacing">7-<tspan font-style="italic">O</tspan>-Ac [B<tspan font-size="20.5">₁</tspan>: 173.00 Å²; B<tspan font-size="20.5">₃</tspan>: 249.86 Å²]</text>
<text transform="translate(612,476.9) rotate(-90) scale(1,1.02)" textLength="442.8" lengthAdjust="spacing">9-<tspan font-style="italic">O</tspan>-Ac [B<tspan font-size="20.5">₁</tspan>: 174.74 Å²; B<tspan font-size="20.5">₃</tspan>: 249.86 Å²]</text>
<text transform="translate(814,734.4) rotate(-90) scale(1,1.02)" textLength="425.3" lengthAdjust="spacing">7,9-di-O-Ac [B<tspan font-size="20.5">₁</tspan>: 183.75 Å²; B<tspan font-size="20.5">₃</tspan>: n.d.]</text>
<text transform="translate(1171,503.15) rotate(-90) scale(1,1.02)" textLength="490.05" lengthAdjust="spacing">7,9-di-O-Ac [B<tspan font-size="20.5">₁</tspan>: 183.20 Å²; B<tspan font-size="20.5">₃</tspan>: 258.08Å²]</text>
<text transform="translate(1404,589.9) rotate(-90) scale(1,1.02)" textLength="444.3" lengthAdjust="spacing">7-<tspan font-style="italic">O</tspan>-Ac [B<tspan font-size="20.5">₁</tspan>: 173.00 Å²; B<tspan font-size="20.5">₃</tspan>: 246.54 Å²]</text>
<text transform="translate(1437,589.9) rotate(-90) scale(1,1.02)" textLength="444.3" lengthAdjust="spacing">9-<tspan font-style="italic">O</tspan>-Ac [B<tspan font-size="20.5">₁</tspan>: 175.30 Å²; B<tspan font-size="20.5">₃</tspan>: 250.08 Å²]</text>
<text transform="translate(1785,589.9) rotate(-90) scale(1,1.02)" textLength="371.8" lengthAdjust="spacing">9-<tspan font-style="italic">O</tspan>-Ac [B<tspan font-size="20.5">₁</tspan>: 174.74 Å²; B<tspan font-size="20.5">₃</tspan>: n.d.]</text>
<line x1="75.5" y1="1442.75" x2="1966.25" y2="1442.75" stroke="#000" stroke-width="3.3"/>
<text transform="translate(44.2,1497.8) scale(1,1.02)" font-size="27.3">Legend:</text>
<circle cx="192.5" cy="1491.3" r="19.9" fill="#EEE716" stroke="#000" stroke-width="3.6"/>
<text transform="translate(240.2,1500.5) scale(1,1.02)" font-size="27.3">Galactose (Gal)</text>
<path d="M488.75,1471.62 L508.25,1491 L488.75,1510.38 L469.25,1491Z" fill="#7A5CA6" stroke="#000" stroke-width="3.6"/>
<text transform="translate(523.4,1502.3) scale(1,1.02)" font-size="27.3">N-Acetylneuraminic acid (Neu5Ac)</text>
<rect x="975.05" y="1472.3" width="39.4" height="39.4" fill="#4059A9" stroke="#000" stroke-width="3.6"/>
<text transform="translate(1041.2,1501.8) scale(1,1.02)" font-size="27.3">N-Acetylglucosamine (GlcNAc)</text>
<path d="M1470,1469.8 L1491,1511 L1449,1511Z" fill="#E9314F" stroke="#000" stroke-width="3.6"/>
<text transform="translate(1512.8,1500.8) scale(1,1.02)" font-size="27.3">Fucose (Fuc)</text>
<circle cx="1732.5" cy="1491.4" r="19.9" fill="#1CA14A" stroke="#000" stroke-width="3.6"/>
<text transform="translate(1777.4,1500.8) scale(1,1.02)" font-size="27.3">Mannose (Man)</text>
<text transform="translate(-2,25.5)" font-size="49" font-weight="bold">a</text>
<text transform="translate(1519.4,34.5)" font-size="49" font-weight="bold">b</text>
</svg>
</body></html>
